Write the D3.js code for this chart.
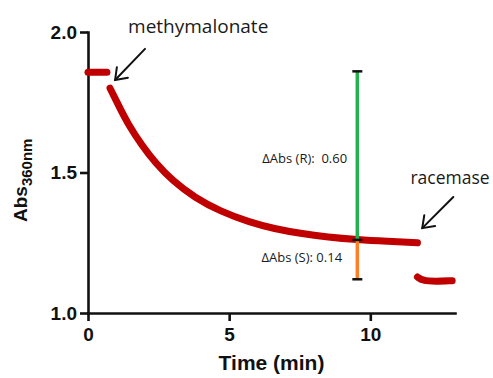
<!DOCTYPE html>
<html>
<head>
<meta charset="utf-8">
<script src="https://cdn.jsdelivr.net/npm/d3@7"></script>
<style>
  html, body { margin: 0; padding: 0; background: #fff; }
  .axis text { font-family: 'Liberation Sans', Arial, sans-serif; font-weight: bold; font-size: 19px; fill: #111; }
  .axis path, .axis line { stroke: #111; stroke-width: 2.6; }
  .note { font-family: 'Open Sans', sans-serif; fill: #1a1a1a; }
</style>
</head>
<body>
<div id="chart"></div>
<script>
// absorbance trace (min, Abs360nm), three pieces
const baselineTime = [0, 0.67];
const baselineAbs = [1.857, 1.857];
const decayTime = [0.78, 1.1, 1.42, 1.9, 2.38, 3.0, 3.79, 4.68, 5.74, 6.6, 7.52, 8.5, 9.54, 10.6, 11.67];
const decayAbs = [1.80, 1.735, 1.672, 1.598, 1.535, 1.47, 1.41, 1.362, 1.322, 1.30, 1.283, 1.27, 1.261, 1.255, 1.25];
const racemaseTime = [11.67, 11.85, 12.3, 12.9];
const racemaseAbs = [1.128, 1.115, 1.112, 1.115];

// delta bar at t = 9.54
const barTime = 9.54;
const barAbs = [1.86, 1.26, 1.12]; // top, middle, bottom

const xTicks = [0, 5, 10];
const yTicks = [1.0, 1.5, 2.0];

// annotations in data units
const arrows = [
  { from: [2.02, 1.94], to: [0.96, 1.829] },
  { from: [12.94, 1.413], to: [11.84, 1.302] }
];
const labels = [
  { text: "methymalonate", t: 1.42, v: 1.996, size: 19, anchor: "start" },
  { text: "racemase", t: 11.42, v: 1.459, size: 17.5, anchor: "start" },
  { text: "\u0394Abs (R):\u00a0 0.60", t: 9.18, v: 1.534, size: 13, anchor: "end" },
  { text: "\u0394Abs (S): 0.14", t: 9.0, v: 1.18, size: 13, anchor: "end" }
];

const W = 493, H = 378;
const svg = d3.select("#chart").append("svg").attr("width", W).attr("height", H);

const x = d3.scaleLinear().domain([0, 13]).range([88, 455]);
const y = d3.scaleLinear().domain([1, 2]).range([313, 32]);

// axes
svg.append("g")
  .attr("class", "axis")
  .attr("transform", `translate(0,${y(1)})`)
  .call(d3.axisBottom(x).tickValues(xTicks).tickFormat(d3.format("d")).tickSizeInner(8).tickSizeOuter(0).tickPadding(7));

svg.append("g")
  .attr("class", "axis")
  .attr("transform", `translate(${x(0)},0)`)
  .call(d3.axisLeft(y).tickValues(yTicks).tickFormat(d3.format(".1f")).tickSizeInner(8).tickSizeOuter(0).tickPadding(3));

svg.selectAll(".axis path").attr("stroke-linecap", "square");

// axis titles
const ylab = svg.append("text")
  .attr("transform", `translate(27,${222}) rotate(-90)`)
  .attr("font-family", "'Liberation Sans', Arial, sans-serif")
  .attr("font-weight", "bold")
  .attr("fill", "#111");
ylab.append("tspan").attr("font-size", 19).text("Abs");
ylab.append("tspan").attr("font-size", 15).attr("dy", 5).text("360nm");

svg.append("text")
  .attr("x", (x(0) + x(13)) / 2)
  .attr("y", 370)
  .attr("text-anchor", "middle")
  .attr("font-family", "'Liberation Sans', Arial, sans-serif")
  .attr("font-weight", "bold")
  .attr("font-size", 21)
  .attr("fill", "#111")
  .text("Time (min)");

// trace
const line = d3.line().x(d => x(d[0])).y(d => y(d[1])).curve(d3.curveBasis);
const pieces = [
  d3.zip(baselineTime, baselineAbs),
  d3.zip(decayTime, decayAbs),
  d3.zip(racemaseTime, racemaseAbs)
];
svg.selectAll(".trace")
  .data(pieces)
  .enter().append("path")
  .attr("class", "trace")
  .attr("d", line)
  .attr("fill", "none")
  .attr("stroke", "#c00000")
  .attr("stroke-width", 7)
  .attr("stroke-linecap", "round")
  .attr("stroke-linejoin", "round");

// delta bars
svg.append("line")
  .attr("x1", x(barTime)).attr("x2", x(barTime))
  .attr("y1", y(barAbs[0])).attr("y2", y(barAbs[1]))
  .attr("stroke", "#22b14c").attr("stroke-width", 3.5);
svg.append("line")
  .attr("x1", x(barTime)).attr("x2", x(barTime))
  .attr("y1", y(barAbs[1])).attr("y2", y(barAbs[2]))
  .attr("stroke", "#ff7f27").attr("stroke-width", 3.5);
svg.selectAll(".cap")
  .data(barAbs)
  .enter().append("line")
  .attr("class", "cap")
  .attr("x1", x(barTime) - 5).attr("x2", x(barTime) + 5)
  .attr("y1", d => y(d)).attr("y2", d => y(d))
  .attr("stroke", "#111").attr("stroke-width", 2.5);

// arrows
arrows.forEach(a => {
  const x1 = x(a.from[0]), y1 = y(a.from[1]), x2 = x(a.to[0]), y2 = y(a.to[1]);
  const ang = Math.atan2(y2 - y1, x2 - x1);
  const len = 13, spread = Math.PI / 5;
  const g = svg.append("g").attr("stroke", "#111").attr("stroke-width", 2).attr("fill", "none").attr("stroke-linecap", "round");
  g.append("line").attr("x1", x1).attr("y1", y1).attr("x2", x2).attr("y2", y2);
  g.append("polyline").attr("points", [
    [x2 - len * Math.cos(ang - spread), y2 - len * Math.sin(ang - spread)],
    [x2, y2],
    [x2 - len * Math.cos(ang + spread), y2 - len * Math.sin(ang + spread)]
  ].map(p => p.join(",")).join(" "));
});

// labels
svg.selectAll(".note")
  .data(labels)
  .enter().append("text")
  .attr("class", "note")
  .attr("x", d => x(d.t))
  .attr("y", d => y(d.v))
  .attr("text-anchor", d => d.anchor)
  .attr("font-size", d => d.size)
  .text(d => d.text);
</script>
</body>
</html>
